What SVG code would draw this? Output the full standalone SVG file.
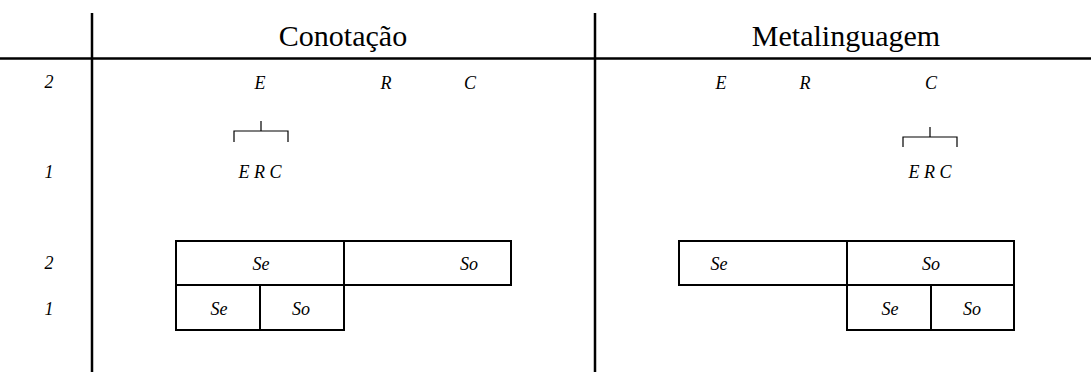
<svg xmlns="http://www.w3.org/2000/svg" width="1091" height="372" viewBox="0 0 1091 372">
<style>
.axis{stroke:#000;stroke-width:2.5;fill:none}
.box{stroke:#000;stroke-width:2;fill:none}
.br{stroke:#000;stroke-width:1.2;fill:none}
.t{font-family:"Liberation Serif","Times New Roman",serif;font-size:30px;text-anchor:middle;fill:#000}
.i{font-family:"Liberation Serif","Times New Roman",serif;font-style:italic;font-size:18px;text-anchor:middle;fill:#000}
</style>
<rect width="1091" height="372" fill="#fff"/>
<g id="axes">
<line class="axis" x1="92" y1="13" x2="92" y2="372"/>
<line class="axis" x1="595" y1="13" x2="595" y2="372"/>
<line class="axis" x1="0" y1="58.5" x2="1091" y2="58.5"/>
</g>
<g id="titles">
<text class="t" x="343" y="46">Conotação</text>
<text class="t" x="846" y="46">Metalinguagem</text>
</g>
<g id="rowlabels">
<text class="i" x="49" y="88">2</text>
<text class="i" x="49" y="178">1</text>
<text class="i" x="49" y="269">2</text>
<text class="i" x="49" y="315">1</text>
</g>
<g id="conotacao-top">
<text class="i" x="260" y="89">E</text>
<text class="i" x="386" y="89">R</text>
<text class="i" x="470" y="89">C</text>
<path class="br" d="M261,121V131M234,142V131H288V142"/>
<text class="i" x="260" y="178">E R C</text>
</g>
<g id="metalinguagem-top">
<text class="i" x="721" y="89">E</text>
<text class="i" x="805" y="89">R</text>
<text class="i" x="931" y="89">C</text>
<path class="br" d="M930,127V137M903,147V137H957V147"/>
<text class="i" x="930" y="178">E R C</text>
</g>
<g id="conotacao-boxes">
<rect class="box" x="176" y="241" width="168" height="44"/>
<rect class="box" x="344" y="241" width="167" height="44"/>
<rect class="box" x="176" y="285" width="84" height="45"/>
<rect class="box" x="260" y="285" width="84" height="45"/>
<text class="i" x="261" y="270">Se</text>
<text class="i" x="469" y="270">So</text>
<text class="i" x="219" y="315">Se</text>
<text class="i" x="301" y="315">So</text>
</g>
<g id="metalinguagem-boxes">
<rect class="box" x="679" y="241" width="168" height="44"/>
<rect class="box" x="847" y="241" width="167" height="44"/>
<rect class="box" x="847" y="285" width="84" height="45"/>
<rect class="box" x="931" y="285" width="83" height="45"/>
<text class="i" x="719" y="270">Se</text>
<text class="i" x="931" y="270">So</text>
<text class="i" x="890" y="315">Se</text>
<text class="i" x="972" y="315">So</text>
</g>
</svg>
